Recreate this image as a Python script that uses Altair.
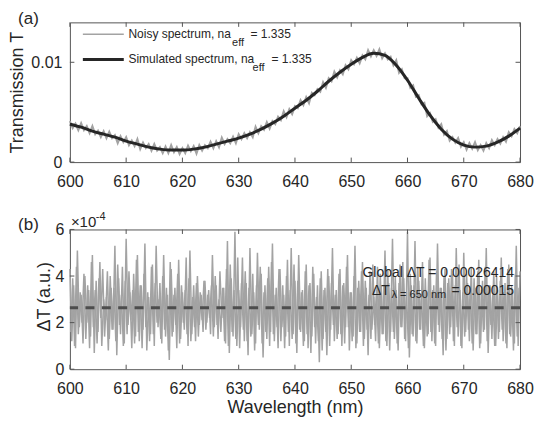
import altair as alt
import pandas as pd
import numpy as np

# ---------------- data ----------------
x_ticks = [600, 610, 620, 630, 640, 650, 660, 670, 680]
ya_ticks = [0, 0.01]
yb_ticks = [0, 2, 4, 6]

# simulated spectrum (T x 1e-4), every 2 nm
wl_sim = list(range(600, 681, 2))
sim_e4 = [38, 35, 31, 28, 25, 21, 18, 15, 13, 12, 12, 13, 15, 18, 21, 24, 28, 33, 39, 46,
          54, 62, 71, 81, 90, 98, 105, 109, 107, 97, 82, 64, 47, 33, 23, 17, 15, 16, 20, 26, 34]

# noisy spectrum (T x 1e-4), every 0.5 nm
noisy_e4 = [41, 34, 38.5, 32, 39, 32, 36, 29, 36, 28,
            31.5, 25, 31, 24, 30.5, 24, 27, 19, 26, 20,
            25, 17, 21.5, 16, 23, 13, 19.5, 14, 18, 11.5,
            18, 11.5, 15, 9, 15.5, 9, 17, 10, 15, 8,
            14, 9, 16.5, 11, 16, 8.5, 17, 11.5, 17, 14,
            20.5, 14, 21, 15, 24.5, 18, 23, 19, 25.5, 19,
            28, 23, 29, 24, 30, 25, 35.5, 29, 36, 32.5,
            40, 33.5, 41, 38, 45.5, 42, 51, 45, 53, 48,
            56, 54, 62, 57, 65, 59, 69.5, 67, 73, 70.5,
            80, 74.5, 84, 81, 90.5, 85, 92, 88, 97, 93,
            102, 98, 104.5, 99, 107, 103, 112, 106, 112, 106.5,
            113, 104, 109, 103, 105.5, 97, 102, 89.5, 93, 84,
            84, 74.5, 77, 65.5, 67, 58, 59.5, 46, 49, 40.5,
            43, 34.5, 38, 27.5, 31, 21.5, 25, 19.5, 24, 15.5,
            20, 12.5, 19, 13.5, 20, 12, 17, 11.5, 19, 14,
            22, 17, 23, 18.5, 25, 20.5, 30, 26, 33, 29,
            36]

# Delta T (x 1e-4), samples every 1/3 nm starting at 600 nm
dT_e4 = [4.3, 1.2, 3.6, 0.9, 5.1, 1.8, 3.2, 1.1, 4.0, 2.0, 3.4, 1.4,
         4.9, 0.7, 3.8, 1.6, 4.6, 1.0, 3.0, 2.1, 4.2, 1.3, 3.5, 1.7,
         5.3, 0.6, 3.9, 1.5, 4.4, 1.1, 5.6, 1.9, 3.3, 0.9, 4.1, 1.4,
         4.9, 1.2, 3.6, 1.7, 5.4, 0.8, 3.1, 1.5, 4.5, 1.0, 5.3, 1.8,
         3.7, 1.1, 4.9, 1.4, 3.2, 0.4, 4.3, 1.6, 3.5, 0.9, 4.7, 1.3,
         3.3, 1.7, 4.8, 1.0, 5.1, 1.5, 3.6, 1.2, 4.0, 1.9, 3.2, 1.6,
         3.8, 2.0, 3.4, 1.5, 4.9, 1.8, 3.6, 1.3, 4.2, 2.2, 3.5, 1.1,
         5.5, 0.7, 3.9, 1.4, 5.9, 1.0, 3.4, 1.8, 4.8, 1.2, 3.7, 0.6,
         5.2, 1.5, 3.3, 1.1, 5.0, 1.7, 4.1, 0.5, 3.6, 1.3, 4.4, 1.6,
         5.4, 1.2, 3.5, 0.9, 4.3, 1.8, 3.2, 1.4, 4.7, 1.0, 5.2, 1.5,
         3.8, 0.7, 4.9, 1.6, 3.4, 1.2, 4.5, 0.9, 3.7, 1.4, 4.1, 1.1,
         3.6, 0.3, 4.2, 1.3, 3.5, 0.6, 4.0, 1.7, 5.2, 1.2, 3.4, 1.5,
         4.3, 1.0, 3.7, 1.8, 4.9, 0.8, 3.3, 1.4, 5.3, 1.1, 3.8, 1.6,
         4.6, 1.3, 3.5, 0.6, 4.2, 1.7, 3.1, 1.2, 4.4, 0.9, 3.6, 1.5,
         5.1, 1.0, 3.7, 1.6, 5.6, 1.3, 3.4, 0.8, 4.5, 1.8, 3.9, 1.2,
         5.9, 0.5, 3.6, 1.4, 5.5, 1.1, 3.8, 1.7, 4.6, 0.9, 3.3, 1.5,
         4.8, 1.2, 3.6, 1.0, 5.4, 1.6, 3.5, 0.6, 4.3, 1.3, 3.9, 1.8,
         4.1, 1.0, 5.2, 1.4, 3.4, 0.9, 5.0, 1.6, 3.7, 1.2, 4.4, 0.8,
         3.5, 1.5, 4.7, 1.1, 3.8, 1.7, 5.2, 0.7, 3.6, 1.3, 4.2, 1.0,
         3.4, 1.6, 4.8, 1.2, 3.7, 0.9, 4.5, 1.4, 3.3, 1.1, 5.3, 1.0,
         4.2]

# Delta T (x 1e-4), in-between samples (600 + 1/6 nm, every 1/3 nm)
dT2_e4 = [1.6, 3.9, 1.0, 4.4, 1.5, 3.3, 2.0, 4.1, 1.3, 3.6, 0.9, 4.6,
          1.8, 3.4, 1.1, 3.9, 2.2, 4.3, 1.4, 3.1, 0.8, 4.0, 1.7, 3.5,
          1.2, 4.5, 1.9, 3.2, 1.0, 3.8, 1.5, 4.2, 2.1, 3.4, 1.1, 4.7,
          1.6, 3.6, 0.9, 4.1, 1.8, 3.3, 1.2, 4.4, 1.5, 3.7, 2.0, 3.0,
          1.3, 4.0, 1.7, 3.5, 0.8, 4.6, 1.4, 3.2, 1.9, 4.1, 1.1, 3.6,
          2.0, 3.4, 1.5, 3.9, 1.2, 3.1, 1.8, 3.7, 1.4, 3.3, 2.1, 3.8,
          1.7, 3.2, 2.2, 3.6, 1.4, 4.0, 1.9, 3.0, 1.6, 3.5, 1.2, 4.3,
          1.0, 4.5, 1.6, 3.4, 1.3, 4.8, 0.9, 3.7, 1.7, 4.2, 1.2, 3.5,
          1.4, 4.1, 0.8, 3.6, 1.9, 4.4, 1.1, 3.3, 1.6, 3.9, 1.0, 4.6,
          1.5, 3.2, 1.8, 4.3, 1.2, 3.6, 0.9, 4.0, 1.6, 3.4, 1.3, 4.5,
          1.1, 3.8, 1.7, 3.3, 1.0, 4.2, 1.5, 3.6, 0.7, 4.4, 1.8, 3.1,
          1.2, 3.9, 0.8, 3.4, 1.6, 4.3, 1.0, 3.7, 1.9, 3.2, 1.3, 4.1,
          1.5, 3.6, 1.1, 4.4, 1.8, 3.3, 1.2, 4.0, 0.9, 3.5, 1.6, 4.2,
          1.0, 3.8, 1.7, 3.2, 1.3, 4.5, 1.9, 3.4, 1.1, 4.1, 1.5, 3.6,
          1.2, 4.3, 0.8, 3.5, 1.6, 4.0, 1.1, 3.7, 1.8, 4.6, 1.3, 3.3,
          0.9, 4.1, 1.5, 3.6, 1.2, 4.4, 1.7, 3.2, 1.0, 3.9, 1.4, 4.7,
          1.6, 3.4, 1.1, 4.2, 1.9, 3.5, 1.3, 4.0, 0.8, 3.7, 1.5, 4.3,
          1.2, 3.6, 1.8, 4.5, 1.0, 3.3, 1.4, 4.1, 1.7, 3.5, 1.1, 3.9,
          1.5, 4.2, 0.9, 3.4, 1.6, 4.4, 1.2, 3.6, 1.9, 3.2, 1.0, 4.0,
          1.3, 3.8, 1.7, 3.3, 1.1, 4.3, 1.5, 3.6, 0.8, 4.1, 1.4, 3.5]

global_dT_e4 = 2.6414

# ---------------- style ----------------
W, H = 451, 140
FONT = "Liberation Sans"
TXT = "#262626"
FRAME = "#555555"
GRAY = "#a3a3a3"
TICK = 4.5
LBL = 16

df_noisy = pd.DataFrame({"wl": np.linspace(600, 680, len(noisy_e4)), "T": np.array(noisy_e4) * 1e-4})
df_sim = pd.DataFrame({"wl": wl_sim, "T": np.array(sim_e4) * 1e-4})
df_dT = pd.DataFrame({"wl": np.linspace(600, 680, len(dT_e4)), "dT": dT_e4})
df_dT2 = pd.DataFrame({"wl": 600 + 1 / 6 + np.arange(len(dT2_e4)) / 3, "dT": dT2_e4})
df_xt = pd.DataFrame({"wl": x_ticks})
df_yat = pd.DataFrame({"T": ya_ticks})
df_ybt = pd.DataFrame({"dT": yb_ticks})
df_glob = pd.DataFrame({"dT": [global_dT_e4]})

xscale = alt.Scale(domain=[600, 680], nice=False, zero=False)


def xenc(title, pad):
    if title:
        ax = alt.Axis(values=x_ticks, format="d", labelFontSize=LBL, labelPadding=pad,
                      labelFlush=False, ticks=False, tickSize=0, domain=False, grid=False,
                      title=title, titleFontSize=18, titleY=38, titleBaseline="middle")
        return alt.X("wl:Q", scale=xscale, axis=ax)
    ax = alt.Axis(values=x_ticks, format="d", labelFontSize=LBL, labelPadding=pad,
                  labelFlush=False, ticks=False, tickSize=0, domain=False, grid=False)
    return alt.X("wl:Q", scale=xscale, axis=ax, title=None)


XA = xenc(None, 11)
XB = xenc("Wavelength (nm)", 11)

YA = alt.Y("T:Q", scale=alt.Scale(domain=[0, 0.014], nice=False),
           axis=alt.Axis(values=ya_ticks, format=".2~f", labelFontSize=LBL, labelPadding=8,
                         labelFlush=False, ticks=False, tickSize=0, domain=False, grid=False,
                         title="Transmission T", titleFontSize=18, titleAngle=270,
                         titleX=-52, titleY=70, titleAlign="center", titleBaseline="middle"))
YB = alt.Y("dT:Q", scale=alt.Scale(domain=[0, 6], nice=False),
           axis=alt.Axis(values=yb_ticks, format="d", labelFontSize=LBL, labelPadding=6,
                         labelFlush=False, ticks=False, tickSize=0, domain=False, grid=False,
                         title="ΔT (a.u.)", titleFontSize=18, titleAngle=270,
                         titleX=-25, titleY=67, titleAlign="center", titleBaseline="middle"))


def label(txt, x, y, size, align="left", color=TXT):
    return alt.Chart(pd.DataFrame({"t": [txt]})).mark_text(
        font=FONT, fontSize=size, color=color, align=align, baseline="middle"
    ).encode(text="t:N", x=alt.value(x), y=alt.value(y))


def seg(x1, x2, y, color, width):
    return alt.Chart(pd.DataFrame({"a": [0]})).mark_rule(color=color, strokeWidth=width).encode(
        x=alt.value(x1), x2=alt.value(x2), y=alt.value(y))


def ticks(X, Y, dfx, dfy):
    b = alt.Chart(dfx).mark_rule(color=FRAME, strokeWidth=1).encode(x=X, y=alt.value(H), y2=alt.value(H - TICK))
    t = alt.Chart(dfx).mark_rule(color=FRAME, strokeWidth=1).encode(x=X, y=alt.value(0), y2=alt.value(TICK))
    l = alt.Chart(dfy).mark_rule(color=FRAME, strokeWidth=1).encode(y=Y, x=alt.value(0), x2=alt.value(TICK))
    r = alt.Chart(dfy).mark_rule(color=FRAME, strokeWidth=1).encode(y=Y, x=alt.value(W), x2=alt.value(W - TICK))
    return [b, t, l, r]


# ---------------- panel (a) ----------------
noisy = alt.Chart(df_noisy).mark_line(color=GRAY, strokeWidth=2).encode(x=XA, y=YA)
sim = alt.Chart(df_sim).mark_line(color="#262626", strokeWidth=3, interpolate="monotone").encode(x=XA, y=YA)

panel_a = alt.layer(
    noisy, sim,
    *ticks(XA, YA, df_xt, df_yat),
    seg(13, 54, 11.8, GRAY, 1.5),
    seg(13, 54, 37.2, "#262626", 3),
    label("Noisy spectrum, na", 58.7, 11.8, 12),
    label("eff", 162.5, 20.5, 11),
    label("= 1.335", 181, 11.8, 12),
    label("Simulated spectrum, na", 58.7, 37, 12),
    label("eff", 183, 45.7, 11),
    label("= 1.335", 202, 37, 12),
    label("(a)", -41.5, -3.2, 17, align="center"),
).properties(width=W, height=H)

# ---------------- panel (b) ----------------
noise_b = alt.Chart(df_dT).mark_line(color=GRAY, strokeWidth=1.5).encode(x=XB, y=YB)
noise_b2 = alt.Chart(df_dT2).mark_line(color=GRAY, strokeWidth=1.5).encode(x=XB, y=YB)
glob = alt.Chart(df_glob).mark_rule(color="#4d4d4d", strokeWidth=3, strokeDash=[9, 7.4]).encode(y=YB)

panel_b = alt.layer(
    noise_b2, noise_b, glob,
    *ticks(XB, YB, df_xt, df_ybt),
    label("Global ΔT = 0.00026414", W - 6, 43.7, 14, align="right"),
    label("ΔT", W - 130.5, 61.5, 14, align="right"),
    label("λ = 650 nm", W - 74, 66, 11, align="right"),
    label("= 0.00015", W - 6, 61.5, 14, align="right"),
    label("(b)", -41.5, -4, 17, align="center"),
    label("×10", 1, -7.3, 15),
    label("-4", 26, -12.3, 11),
).properties(width=W, height=H)

chart = alt.vconcat(panel_a, panel_b, spacing=67.5, bounds="flush").properties(
    padding={"left": 0, "top": 1, "right": 0, "bottom": 0}
).configure_view(stroke=FRAME, strokeWidth=1).configure_axis(
    labelFont=FONT, titleFont=FONT, labelColor=TXT, titleColor=TXT, titleFontWeight="normal"
)

chart.save("out.html", embed_options={"renderer": "svg", "actions": False})
